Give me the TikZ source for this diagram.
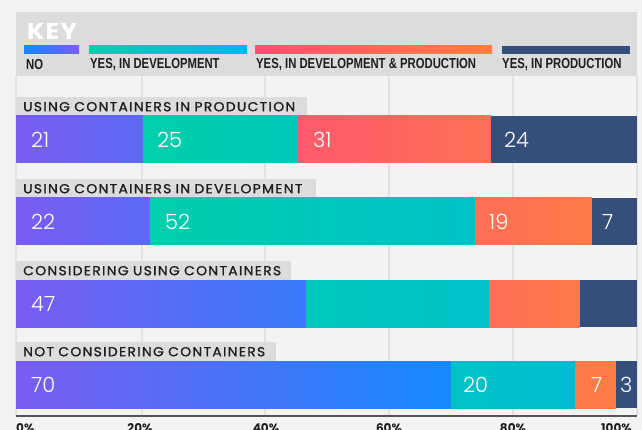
\documentclass[tikz,border=0pt]{standalone}
\usepackage{fontspec}
\setmainfont{Poppins}
\newfontfamily\legfont[FakeStretch=0.78]{Liberation Sans}
\newfontfamily\numfont{Poppins Light}
\newfontfamily\rowfont[LetterSpace=10, FakeStretch=1.07, FakeBold=1.2]{Poppins}
\newfontfamily\keyfont[FakeStretch=1.1, LetterSpace=4]{Poppins}
\definecolor{bgc}{HTML}{F3F3F3}
\definecolor{keybg}{HTML}{DCDCDE}
\definecolor{gridc}{HTML}{E2E2E2}
\definecolor{purp}{HTML}{7A5CF2}
\definecolor{blu}{HTML}{1589FF}
\definecolor{tealA}{HTML}{00CFAB}
\definecolor{tealB}{HTML}{00BCD2}
\definecolor{legteal}{HTML}{00B4EC}
\definecolor{pinkA}{HTML}{FF5A6C}
\definecolor{orgB}{HTML}{FF7D45}
\definecolor{legpink}{HTML}{FF5070}
\definecolor{legorg}{HTML}{FF8040}
\definecolor{navy}{HTML}{34507A}
\definecolor{txt}{HTML}{1E1E1E}
\definecolor{axisc}{HTML}{555555}
\newcommand\seg[5]{\shade[left color=#4, right color=#5] (#1,#3) rectangle (#2,#3+47);}
\begin{document}
\begin{tikzpicture}[x=1pt,y=-1pt,
  legtxt/.style={font=\legfont\bfseries\fontsize{14.5}{14.5}\selectfont, text=txt, anchor=west, inner sep=0},
  rowlab/.style={fill=keybg, anchor=north west, minimum height=19pt, inner ysep=0, inner xsep=7pt, align=left, font=\rowfont\fontsize{13}{13}\selectfont, text=txt},
  num/.style={font=\numfont\fontsize{21}{21}\selectfont, text=white, anchor=west, inner sep=0},
  axlab/.style={font=\bfseries\fontsize{12}{12}\selectfont, text=txt, anchor=north, inner sep=0},
  gridl/.style={draw=gridc, line width=1.3pt}]
\useasboundingbox (0,0) rectangle (642,430);
\fill[bgc] (0,0) rectangle (642,430);
% key box
\fill[keybg] (16,12) rectangle (637,76);
\node[font=\keyfont\bfseries\fontsize{23}{23}\selectfont, text=white, anchor=west, inner sep=0] (key) at (27,31) {KEY};
\shade[left color=blu, right color=purp] (24,46) rectangle (79,54);
\shade[left color=tealA, right color=legteal] (89,46) rectangle (247,54);
\shade[left color=legpink, right color=legorg] (255,46) rectangle (492,54);
\fill[navy] (502,46) rectangle (630,54);
\node[legtxt] (l1) at (26,65) {NO};
\node[legtxt] (l2) at (90,65) {YES, IN DEVELOPMENT};
\node[legtxt] (l3) at (256,65) {YES, IN DEVELOPMENT \& PRODUCTION};
\node[legtxt] (l4) at (502,65) {YES, IN PRODUCTION};
% grid
\foreach \gx in {16,142,265,389,513,637} \draw[gridl] (\gx,76) -- (\gx,416);
% row 1
\node[rowlab, minimum width=291pt, text width=277pt] (r1) at (16,97) {USING CONTAINERS IN PRODUCTION};
\seg{16}{143}{116}{purp}{blu!29!purp}
\seg{143}{298}{116}{tealA}{tealB!36!tealA}
\seg{298}{491}{116}{pinkA}{orgB!61!pinkA}
\fill[navy] (491,116) rectangle (637,163);
\node[num] (n11) at (31,139.5) {21};
\node[num] (n12) at (157,139.5) {25};
\node[num] (n13) at (313,139.5) {31};
\node[num] (n14) at (504,139.5) {24};
% row 2
\node[rowlab, minimum width=300pt, text width=286pt] (r2) at (16,179) {USING CONTAINERS IN DEVELOPMENT};
\seg{16}{150}{198}{purp}{blu!31!purp}
\seg{150}{475}{198}{tealB!2!tealA}{tealB!75!tealA}
\seg{475}{592}{198}{orgB!56!pinkA}{orgB!92!pinkA}
\fill[navy] (592,198) rectangle (637,245);
\node[num] (n21) at (31,221.5) {22};
\node[num] (n22) at (165,221.5) {52};
\node[num] (n23) at (489,221.5) {19};
\node[num] (n24) at (602,221.5) {7};
% row 3
\node[rowlab, minimum width=275pt, text width=261pt] (r3) at (16,261) {CONSIDERING USING CONTAINERS};
\seg{16}{306}{280}{purp}{blu!67!purp}
\seg{306}{489}{280}{tealB!38!tealA}{tealB!80!tealA}
\seg{489}{580}{280}{orgB!60!pinkA}{orgB!89!pinkA}
\fill[navy] (580,280) rectangle (637,327);
\node[num] (n31) at (31,303.5) {47};
% row 4
\node[rowlab, minimum width=260pt, text width=246pt] (r4) at (16,342) {NOT CONSIDERING CONTAINERS};
\seg{16}{451}{361}{purp}{blu}
\seg{451}{575}{361}{tealB!71!tealA}{tealB}
\seg{575}{616}{361}{orgB!87!pinkA}{orgB}
\fill[navy] (616,361) rectangle (637,408);
\node[num] (n41) at (31,384.5) {70};
\node[num] (n42) at (463,384.5) {20};
\node[num] (n43) at (591,384.5) {7};
\node[num] (n44) at (620,384.5) {3};
% axis
\draw[draw=axisc, line width=1.3pt] (16,416) -- (637,416);
\node[axlab, anchor=north west] (a0) at (16,423) {0\%};
\node[axlab] (a20) at (140,423) {20\%};
\node[axlab] (a40) at (266,423) {40\%};
\node[axlab] (a60) at (389,423) {60\%};
\node[axlab] (a80) at (513,423) {80\%};
\node[axlab, anchor=north east] (a100) at (632,423) {100\%};
\end{tikzpicture}
\end{document}
